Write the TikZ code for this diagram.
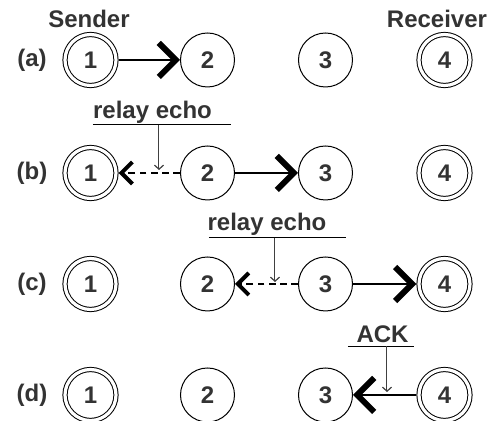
\documentclass[tikz,border=0pt]{standalone}
\usepackage{fontspec}
\setmainfont{Liberation Sans}
\usepackage{xcolor}
\usepackage{tikz}
\usetikzlibrary{arrows.meta, calc}

\begin{document}
\begin{tikzpicture}[
    x=0.5pt, y=-0.5pt,
    every node/.style={font=\fontsize{12}{14}\selectfont\bfseries, text=black!80},
    peer/.style={draw, circle, line width=0.5pt, minimum size=27pt, inner sep=0pt},
    endpeer/.style={peer, minimum size=25.5pt, double, double distance=1.6pt, outer sep=1.3pt},
    hop/.style={line width=1.4pt, -{Straight Barb[length=8.5pt, width=17pt, line width=3pt]}},
    echo/.style={line width=0.9pt, dash pattern=on 3.4pt off 2.2pt, -{Straight Barb[length=5.5pt, width=11pt, line width=2pt]}},
    pointer/.style={line width=0.5pt, draw=black!75, -{Straight Barb[length=2pt, width=4.5pt, line width=0.6pt]}},
    tag/.style={anchor=base}
]
    \useasboundingbox (0,0) rectangle (500,421);

    \node[tag] (sender) at (89,28) {Sender};
    \node[tag] (receiver) at (437,28) {Receiver};

    \node (la) at (32,60) {(a)};
    \node[endpeer] (a1) at (90.5,60) {1};
    \node[peer] (a2) at (207.5,60) {2};
    \node[peer] (a3) at (325.5,60) {3};
    \node[endpeer] (a4) at (444.5,60) {4};

    \node (lb) at (32,173) {(b)};
    \node[endpeer] (b1) at (90.5,173) {1};
    \node[peer] (b2) at (207.5,173) {2};
    \node[peer] (b3) at (325.5,173) {3};
    \node[endpeer] (b4) at (444.5,173) {4};

    \node (lc) at (32,284) {(c)};
    \node[endpeer] (c1) at (90.5,284) {1};
    \node[peer] (c2) at (207.5,284) {2};
    \node[peer] (c3) at (325.5,284) {3};
    \node[endpeer] (c4) at (444.5,284) {4};

    \node (ld) at (32,395) {(d)};
    \node[endpeer] (d1) at (90.5,395) {1};
    \node[peer] (d2) at (207.5,395) {2};
    \node[peer] (d3) at (325.5,395) {3};
    \node[endpeer] (d4) at (444.5,395) {4};

    % forwarding hops
    \draw[hop] (a1) -- (a2);
    \draw[hop] (b2) -- (b3);
    \draw[hop] (c3) -- (c4);
    \draw[hop] (d4) -- (d3);
    \draw[echo] (b2) -- (b1);
    \draw[echo] (c3) -- (c2);

    % callouts
    \node[tag] (echob) at (152.5,119) {relay echo};
    \draw[line width=0.5pt] (93,125) -- (231,125);
    \coordinate (echobfoot) at (159,170);
    \draw[pointer] (159,125) -- (echobfoot);

    \node[tag] (echoc) at (267,231) {relay echo};
    \draw[line width=0.5pt] (209,238) -- (346,238);
    \coordinate (echocfoot) at (275,282);
    \draw[pointer] (275,238) -- (echocfoot);

    \node[tag] (ack) at (382.5,343) {ACK};
    \draw[line width=0.5pt] (348,346.5) -- (414,346.5);
    \coordinate (ackfoot) at (387,392);
    \draw[pointer] (387,346.5) -- (ackfoot);
\end{tikzpicture}
\end{document}
